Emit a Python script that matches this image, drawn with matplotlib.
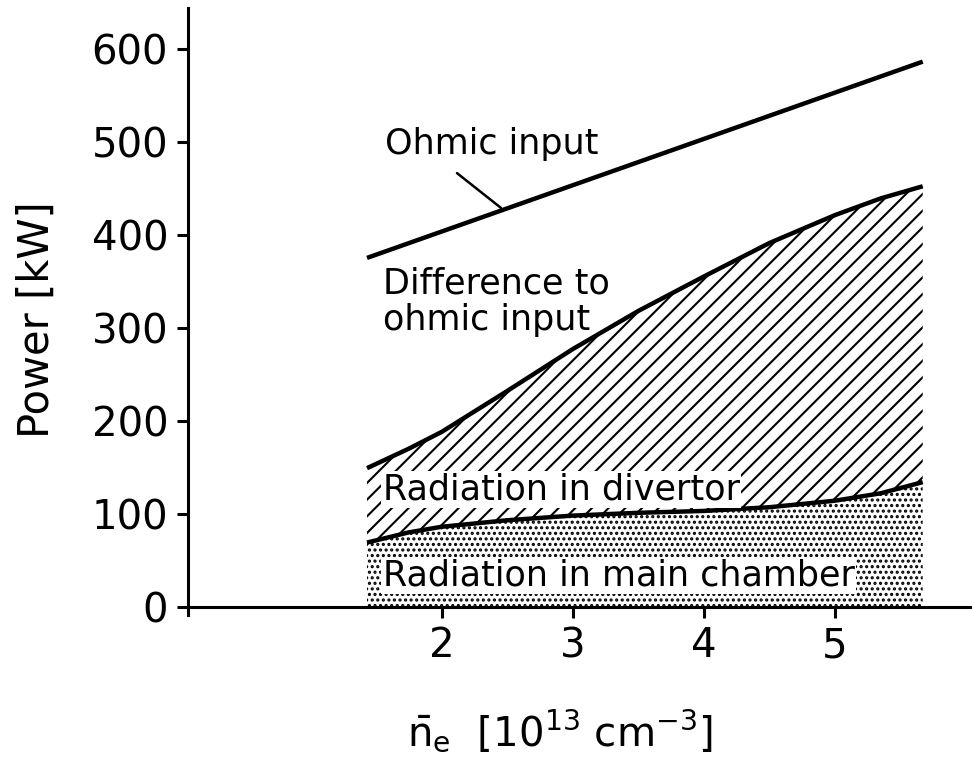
import numpy as np
import matplotlib
matplotlib.use("Agg")
import matplotlib.pyplot as plt

# density n_e [10^13 cm^-3] and power [kW]
dens = [1.43, 1.75, 2.0, 2.5, 3.0, 3.5, 4.0, 4.5, 5.0, 5.35, 5.67]
diff_top = [149, 170, 188, 232, 277, 318, 355, 391, 421, 439, 452]
main_chamber = [69, 80, 86, 93, 98, 101, 103, 107, 114, 122, 134]
ohmic_x = [1.43, 5.67]
ohmic = [375, 586]

xticks = [2, 3, 4, 5]
yticks = [0, 100, 200, 300, 400, 500, 600]

plt.rcParams['font.family'] = 'DejaVu Sans'
plt.rcParams['hatch.linewidth'] = 1.5

fig = plt.figure(figsize=(9.72, 7.67), dpi=100)
ax = fig.add_axes([0.193, 0.198, 0.807, 0.792])

# dotted area: radiation in main chamber
ax.fill_between(dens, 0, main_chamber, facecolor='white', edgecolor='black',
                hatch='...', linewidth=0, zorder=1)
# hatched area: radiation in divertor
ax.fill_between(dens, main_chamber, diff_top, facecolor='white', edgecolor='black',
                hatch='//', linewidth=0, zorder=1)

ax.plot(dens, diff_top, color='black', lw=3.2, solid_capstyle='butt', zorder=3)
ax.plot(dens, main_chamber, color='black', lw=3.2, solid_capstyle='butt', zorder=3)
ax.plot(ohmic_x, ohmic, color='black', lw=3.2, solid_capstyle='butt', zorder=3)

fs = 25.2
ax.text(1.565, 497, 'Ohmic input', fontsize=fs, va='center', ha='left')
ax.annotate('', xy=(2.47, np.interp(2.47, ohmic_x, ohmic)), xytext=(2.1, 468),
            arrowprops=dict(arrowstyle='-', lw=1.8, color='black'))
ax.text(1.55, 328, 'Difference to\nohmic input', fontsize=fs, va='center',
        ha='left', linespacing=1.1)
ax.text(1.55, 126, 'Radiation in divertor', fontsize=fs, va='center', ha='left',
        bbox=dict(facecolor='white', edgecolor='none', pad=1.0), zorder=4)
ax.text(1.55, 34, 'Radiation in main chamber', fontsize=fs, va='center', ha='left',
        bbox=dict(facecolor='white', edgecolor='none', pad=1.0), zorder=4)

ax.set_xlim(0.061, 6.046)
ax.set_ylim(-9, 644)
ax.spines['bottom'].set_position(('data', 0))
ax.spines['top'].set_visible(False)
ax.spines['right'].set_visible(False)
ax.spines['left'].set_linewidth(2.2)
ax.spines['bottom'].set_linewidth(2.2)

ax.set_xticks(xticks)
ax.set_yticks(yticks)
ax.tick_params(axis='both', direction='out', length=8, width=2.2,
               labelsize=29, pad=6)

ax.set_ylabel('Power [kW]', fontsize=30)
ax.yaxis.set_label_coords(-0.166, 0.486)
ax.set_xlabel(r'$\bar{\mathrm{n}}_\mathrm{e}$  [10$^{13}$ cm$^{-3}$]', fontsize=29)
ax.xaxis.set_label_coords(0.4745, -0.152)

fig.savefig('out.png', dpi=100)
